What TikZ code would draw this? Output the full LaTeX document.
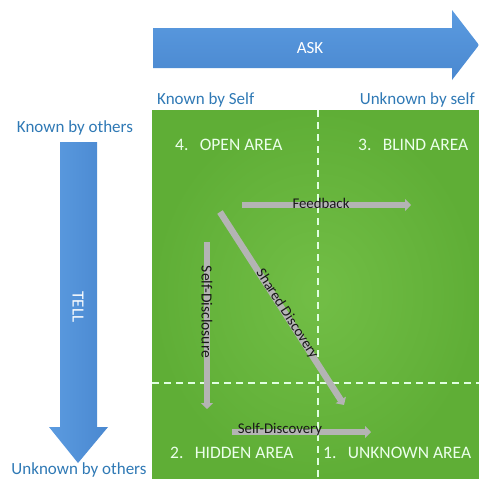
\documentclass[tikz,border=0pt]{standalone}
\usepackage{fontspec}
\setmainfont{Carlito}
\usetikzlibrary{arrows.meta}
\definecolor{hdr}{HTML}{2F79B5}
\definecolor{bluearrow}{HTML}{4A88D0}
\definecolor{bluelight}{HTML}{5B9BE0}
\definecolor{grn}{HTML}{5FAE36}
\definecolor{grnlight}{HTML}{72BE46}
\definecolor{gry}{HTML}{B4B4B4}
\tikzset{
  header/.style={text=hdr, font=\fontsize{17}{19}\selectfont, inner sep=0pt},
  area/.style={text=white!92!green, font=\fontsize{17.5}{19}\selectfont, inner sep=0pt},
  flow/.style={draw=gry, line width=6.5pt, -{Triangle[width=12pt,length=6pt]}},
  flowlabel/.style={text=black!90, font=\fontsize{14.8}{16}\selectfont, inner sep=0pt},
  bigarrowtext/.style={text=white, font=\fontsize{17}{19}\selectfont, inner sep=0pt},
  divider/.style={draw=white!88!green, line width=1.4pt, dash pattern=on 7pt off 5pt},
}
\begin{document}
\begin{tikzpicture}[x=1pt,y=-1pt]
\useasboundingbox (0,0) rectangle (479,479);
% green field
\fill[grn] (152,110) rectangle (479,479);
\shade[inner color=grnlight, outer color=grn] (152,110) rectangle (479,479);
% ASK arrow
\shade[top color=bluelight, bottom color=bluearrow]
  (153,28) -- (452,28) -- (452,10) -- (479,45) -- (452,80) -- (452,68) -- (153,68) -- cycle;
\node[bigarrowtext] (ask) at (310,48) {ASK};
% TELL arrow
\shade[left color=bluelight, right color=bluearrow]
  (60,142) -- (97,142) -- (97,427) -- (108,427) -- (78,463) -- (49,427) -- (60,427) -- cycle;
\node[bigarrowtext, rotate=-90] (tell) at (78,307) {TELL};
% headers
\node[header, anchor=west] (kself) at (157,100) {Known by Self};
\node[header, anchor=east] (uself) at (475,100) {Unknown by self};
\node[header] (kothers) at (75,128) {Known by others};
\node[header] (uothers) at (79,470) {Unknown by others};
% dividers
\coordinate (vtop) at (318,110);
\coordinate (vbot) at (318,479);
\coordinate (hleft) at (152,383);
\coordinate (hright) at (479,383);
\draw[divider] (vtop) -- (vbot);
\draw[divider] (hleft) -- (hright);
% area labels
\node[area, anchor=west] (open) at (175,145) {4.\hspace{0.65em}OPEN AREA};
\node[area, anchor=west] (blind) at (358,145) {3.\hspace{0.65em}BLIND AREA};
\node[area, anchor=west] (hidden) at (170,453) {2.\hspace{0.65em}HIDDEN AREA};
\node[area, anchor=west] (unknown) at (323,453) {1.\hspace{0.65em}UNKNOWN AREA};
% flows
\coordinate (fbs) at (242,205);
\coordinate (fbe) at (411,205);
\draw[flow] (fbs) -- (fbe);
\node[flowlabel] (fbl) at (321,203) {Feedback};
\coordinate (sds) at (207,242);
\coordinate (sde) at (207,409);
\draw[flow] (sds) -- (sde);
\node[flowlabel, font=\fontsize{15.5}{17}\selectfont, rotate=-90] (sdl) at (207,312) {Self-Disclosure};
\coordinate (shs) at (220,212);
\coordinate (she) at (344,405);
\draw[flow] (shs) -- (she);
\node[flowlabel, rotate=-57.3] (shl) at (287,314) {Shared Discovery};
\coordinate (sys) at (232,432);
\coordinate (sye) at (371,432);
\draw[flow] (sys) -- (sye);
\node[flowlabel] (syl) at (280,430) {Self-Discovery};
\end{tikzpicture}
\end{document}
